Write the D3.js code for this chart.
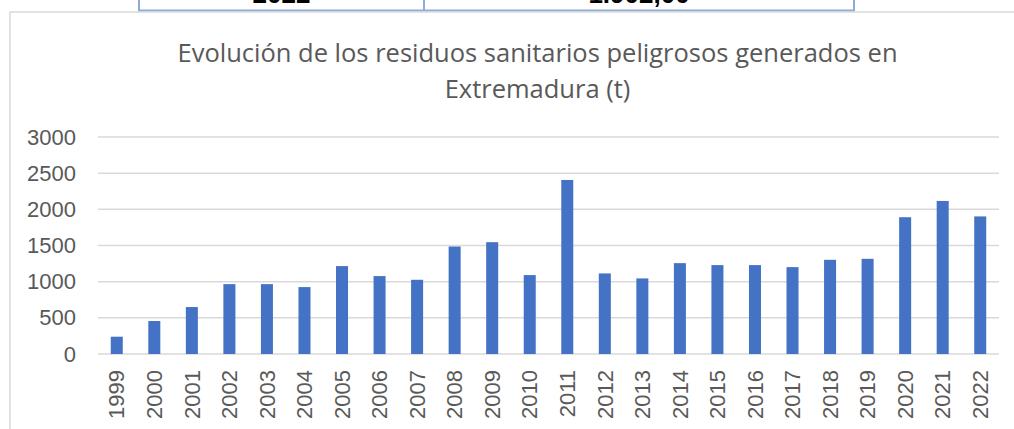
<!DOCTYPE html>
<html>
  <head>
    <meta charset="utf-8">
    <title>Residuos sanitarios peligrosos</title>
    <script src="https://d3js.org/d3.v7.min.js"></script>
    <style>
      body { margin: 0; background: #fff; }
      svg { display: block; }
    </style>
  </head>
  <body>
    <div id="chart"></div>
    <script>
      // data (t)
      var years = ["1999", "2000", "2001", "2002", "2003", "2004", "2005", "2006",
        "2007", "2008", "2009", "2010", "2011", "2012", "2013", "2014", "2015",
        "2016", "2017", "2018", "2019", "2020", "2021", "2022"];
      var tonnes = [239, 456, 649, 966, 966, 925, 1215, 1077, 1026, 1486, 1546,
        1091, 2406, 1114, 1045, 1256, 1229, 1229, 1201, 1302, 1316, 1891, 2116, 1902];
      var yTicks = [0, 500, 1000, 1500, 2000, 2500, 3000];
      var titleLines = ["Evolución de los residuos sanitarios peligrosos generados en",
        "Extremadura (t)"];
      // cut-off table row above the chart
      var tableRow = ["2022", "1.902,00"];

      var width = 1014, height = 429;
      var margin = { top: 137, right: 15, bottom: 75, left: 98 };

      var svg = d3.select("#chart")
        .append("svg")
        .attr("width", width)
        .attr("height", height);

      // table fragment at the top
      var table = svg.append("g");
      table.append("path")
        .attr("d", "M139,-2V10.5H854V-2M424,-2V10.5")
        .attr("fill", "none")
        .attr("stroke", "#8eaadb")
        .attr("stroke-width", 2);
      table.selectAll("text")
        .data(tableRow)
        .enter()
        .append("text")
        .attr("x", function(d, i) { return i == 0 ? 281.5 : 639; })
        .attr("y", 3)
        .attr("text-anchor", "middle")
        .attr("font-family", "Liberation Sans, Arial, sans-serif")
        .attr("font-weight", "bold")
        .attr("font-size", 26)
        .attr("fill", "#000")
        .text(function(d) { return d; });

      // chart frame
      svg.append("path")
        .attr("d", "M10," + (height + 2) + "V12H" + (width + 2))
        .attr("fill", "none")
        .attr("stroke", "#d9d9d9")
        .attr("stroke-width", 1.5);

      // title
      svg.append("g")
        .selectAll("text")
        .data(titleLines)
        .enter()
        .append("text")
        .attr("x", 537.5)
        .attr("y", function(d, i) { return 62 + i * 36; })
        .attr("text-anchor", "middle")
        .attr("font-family", "Open Sans, sans-serif")
        .attr("font-size", 25.5)
        .attr("fill", "#595959")
        .text(function(d) { return d; });

      // scales
      var x = d3.scaleBand()
        .domain(years)
        .range([margin.left, width - margin.right])
        .paddingInner(0.68)
        .paddingOuter(0.34);
      var y = d3.scaleLinear()
        .domain([0, 3000])
        .range([height - margin.bottom, margin.top]);

      // gridlines
      svg.append("g")
        .selectAll("line")
        .data(yTicks)
        .enter()
        .append("line")
        .attr("x1", margin.left)
        .attr("x2", width - margin.right)
        .attr("y1", function(d) { return y(d); })
        .attr("y2", function(d) { return y(d); })
        .attr("stroke", "#d9d9d9")
        .attr("stroke-width", 1.5);

      // y axis labels
      var yAxis = svg.append("g")
        .attr("transform", "translate(" + (margin.left - 22) + ",0)")
        .call(d3.axisLeft(y).tickValues(yTicks).tickFormat(d3.format("d"))
          .tickSize(0).tickPadding(0));
      yAxis.select(".domain").remove();
      yAxis.selectAll("text")
        .attr("font-family", "Liberation Sans, Arial, sans-serif")
        .attr("font-size", 22)
        .attr("fill", "#595959");

      // bars
      svg.append("g")
        .selectAll("rect")
        .data(tonnes)
        .enter()
        .append("rect")
        .attr("x", function(d, i) { return x(years[i]); })
        .attr("y", function(d) { return y(d); })
        .attr("width", x.bandwidth())
        .attr("height", function(d) { return y(0) - y(d); })
        .attr("fill", "#4472c4");

      // x axis labels, rotated
      var xAxis = svg.append("g")
        .attr("transform", "translate(0," + (y(0) + 16) + ")")
        .call(d3.axisBottom(x).tickSize(0).tickPadding(0));
      xAxis.select(".domain").remove();
      xAxis.selectAll("text")
        .attr("font-family", "Liberation Sans, Arial, sans-serif")
        .attr("font-size", 22)
        .attr("fill", "#595959")
        .attr("text-anchor", "end")
        .attr("dy", "0.35em")
        .attr("transform", "rotate(-90)")
        .attr("x", 0)
        .attr("y", 0);
    </script>
  </body>
</html>
